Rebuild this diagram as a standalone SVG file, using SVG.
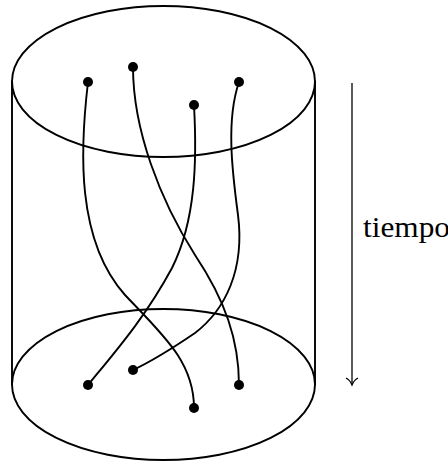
<svg xmlns="http://www.w3.org/2000/svg" width="448" height="461" viewBox="0 0 448 461">
<style>
.ln{fill:none;stroke:#000;stroke-width:1.9;stroke-linecap:round}
.ar{fill:none;stroke:#000;stroke-width:1.3}
.dot{fill:#000}
.lbl{font-family:"Liberation Serif","DejaVu Serif",serif;font-size:29px;fill:#000}
</style>
<g id="cylinder">
<ellipse class="ln" cx="163.5" cy="81.5" rx="151.5" ry="75.5"/>
<ellipse class="ln" cx="163.5" cy="384.5" rx="151.5" ry="75.5"/>
<line class="ln" x1="12" y1="81.5" x2="12" y2="384.5"/>
<line class="ln" x1="315" y1="81.5" x2="315" y2="384.5"/>
</g>
<g id="strands">
<path class="ln" d="M88,82 C80,150 76,240 125,295 C163,335 194,362 194,408"/>
<path class="ln" d="M133,67 C133,130 160,200 195,255 C225,300 239,340 239,385"/>
<path class="ln" d="M194,105 C197,160 196,220 172,268 C145,318 115,352 88,385"/>
<path class="ln" d="M239,82 C226,120 232,170 238,215 C245,270 225,310 195,333 C170,350 150,362 133,370"/>
</g>
<g id="dots">
<circle class="dot" cx="88" cy="82" r="5"/>
<circle class="dot" cx="133" cy="67" r="5"/>
<circle class="dot" cx="194" cy="105" r="5"/>
<circle class="dot" cx="239" cy="82" r="5"/>
<circle class="dot" cx="88" cy="385" r="5"/>
<circle class="dot" cx="133" cy="370" r="5"/>
<circle class="dot" cx="194" cy="408" r="5"/>
<circle class="dot" cx="239" cy="385" r="5"/>
</g>
<g id="time-arrow">
<line class="ar" x1="352" y1="83" x2="352" y2="384.5"/>
<path class="ar" d="M346,378 Q350,380 352,385 Q354,380 358,378"/>
<text class="lbl" x="363" y="237" textLength="87" lengthAdjust="spacingAndGlyphs">tiempo</text>
</g>
</svg>
